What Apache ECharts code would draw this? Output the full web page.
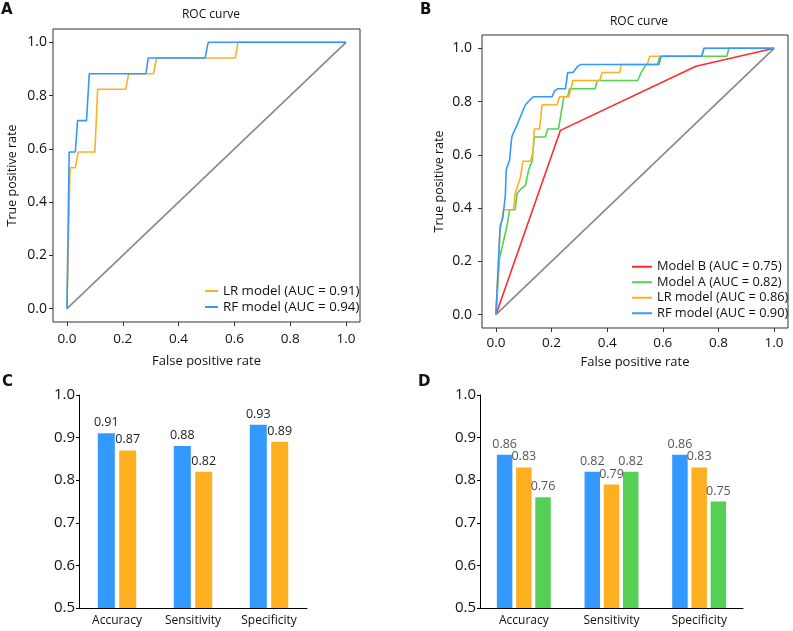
<!DOCTYPE html>
<html>
<head>
<meta charset="utf-8">
<script src="https://cdn.jsdelivr.net/npm/echarts@6/dist/echarts.min.js"></script>
<style>
html,body{margin:0;padding:0;background:#fff;}
#chart{width:793px;height:631px;}
</style>
</head>
<body>
<div id="chart"></div>
<script>
// ---------- Data ----------
var rocTicks = [0, 0.2, 0.4, 0.6, 0.8, 1.0];
var diagonal = [[0, 0], [1, 1]];

// Panel A
var lrA = [[0,0],[0.011,0.529],[0.030,0.529],[0.040,0.588],[0.100,0.588],[0.110,0.824],[0.211,0.824],[0.221,0.882],[0.310,0.882],[0.321,0.941],[0.603,0.941],[0.613,1.0],[1,1]];
var rfA = [[0,0],[0.008,0.588],[0.030,0.588],[0.038,0.706],[0.070,0.706],[0.080,0.882],[0.283,0.882],[0.291,0.941],[0.495,0.941],[0.506,1.0],[1,1]];
var legendA = ['LR model (AUC = 0.91)', 'RF model (AUC = 0.94)'];

// Panel B
var modelB = [[0,0],[0.232,0.692],[0.719,0.933],[1,1]];
var modelA = [[0,0],[0.013,0.212],[0.040,0.333],[0.049,0.394],[0.069,0.394],[0.076,0.455],[0.088,0.470],[0.106,0.485],[0.118,0.545],[0.130,0.576],[0.138,0.667],[0.178,0.667],[0.186,0.697],[0.225,0.697],[0.244,0.818],[0.258,0.818],[0.265,0.848],[0.357,0.848],[0.364,0.879],[0.510,0.879],[0.522,0.909],[0.540,0.939],[0.580,0.939],[0.590,0.970],[0.830,0.970],[0.838,1.0],[1,1]];
var lrB = [[0,0],[0.015,0.313],[0.027,0.394],[0.063,0.394],[0.069,0.455],[0.088,0.515],[0.097,0.576],[0.124,0.576],[0.133,0.606],[0.138,0.697],[0.157,0.697],[0.166,0.788],[0.220,0.788],[0.229,0.818],[0.262,0.818],[0.277,0.879],[0.373,0.879],[0.382,0.909],[0.445,0.909],[0.450,0.939],[0.544,0.939],[0.553,0.970],[0.740,0.970],[0.748,1.0],[1,1]];
var rfB = [[0,0],[0.015,0.333],[0.025,0.364],[0.034,0.450],[0.037,0.545],[0.049,0.580],[0.057,0.667],[0.069,0.697],[0.076,0.712],[0.094,0.758],[0.106,0.788],[0.124,0.808],[0.135,0.818],[0.202,0.818],[0.210,0.839],[0.222,0.848],[0.250,0.848],[0.258,0.909],[0.277,0.909],[0.292,0.930],[0.304,0.939],[0.586,0.939],[0.594,0.970],[0.740,0.970],[0.748,1.0],[1,1]];
var legendB = ['Model B (AUC = 0.75)', 'Model A (AUC = 0.82)', 'LR model (AUC = 0.86)', 'RF model (AUC = 0.90)'];

// Panels C and D
var metrics = ['Accuracy', 'Sensitivity', 'Specificity'];
var cBlue = [0.91, 0.88, 0.93];
var cOrange = [0.87, 0.82, 0.89];
var dBlue = [0.86, 0.82, 0.86];
var dOrange = [0.83, 0.79, 0.83];
var dGreen = [0.76, 0.82, 0.75];
var barTicks = ['0.5', '0.6', '0.7', '0.8', '0.9', '1.0'];

// ---------- Style ----------
var FONT = 'Open Sans';
var BLUE = '#3399FF', ORANGE = '#FFB020', GREEN = '#55D055', RED = '#FF2A2A', GRAY = '#888888';

function rocX(idx, margin, nameGap) {
  return {
    gridIndex: idx, type: 'value', min: -0.05, max: 1.05,
    name: 'False positive rate', nameLocation: 'middle', nameGap: nameGap,
    nameTextStyle: {fontFamily: FONT, fontSize: 13, color: '#111'},
    axisLine: {show: false, onZero: false},
    axisTick: {show: true, inside: false, length: 4, customValues: rocTicks, lineStyle: {color: '#333'}},
    axisLabel: {customValues: rocTicks, margin: margin, fontFamily: FONT, fontSize: 13.5, color: '#111',
      formatter: function (v) { return v.toFixed(1); }},
    splitLine: {show: false}
  };
}
function rocY(idx, margin, nameGap) {
  return {
    gridIndex: idx, type: 'value', min: -0.05, max: 1.05,
    name: 'True positive rate', nameLocation: 'middle', nameGap: nameGap,
    nameTextStyle: {fontFamily: FONT, fontSize: 12.5, color: '#111'},
    axisLine: {show: false, onZero: false},
    axisTick: {show: true, inside: false, length: 4, customValues: rocTicks, lineStyle: {color: '#333'}},
    axisLabel: {customValues: rocTicks, margin: margin, fontFamily: FONT, fontSize: 14, color: '#111',
      formatter: function (v) { return v.toFixed(1); }},
    splitLine: {show: false}
  };
}
function barX(idx) {
  return {
    gridIndex: idx, type: 'category', data: metrics,
    axisLine: {show: true, lineStyle: {color: '#000', width: 1}},
    axisTick: {show: false},
    axisLabel: {margin: 7, fontFamily: FONT, fontSize: 12, color: '#111'},
    splitLine: {show: false}
  };
}
function barY(idx) {
  return {
    gridIndex: idx, type: 'value', min: 0.5, max: 1.0, interval: 0.1,
    axisLine: {show: true, lineStyle: {color: '#000', width: 1}},
    axisTick: {show: true, inside: false, length: 3, lineStyle: {color: '#000'}},
    axisLabel: {margin: 4, fontFamily: FONT, fontSize: 15, color: '#111',
      formatter: function (v) { return barTicks[Math.round((v - 0.5) * 10)]; }},
    splitLine: {show: false}
  };
}
function rocLine(name, data, color, xi) {
  return {
    name: name, type: 'line', xAxisIndex: xi, yAxisIndex: xi, data: data,
    showSymbol: false, symbol: 'none', silent: true, animation: false,
    lineStyle: {color: color, width: 1.6}, itemStyle: {color: color}
  };
}
function bar(name, data, color, xi, width, gap, labelColor) {
  return {
    name: name, type: 'bar', xAxisIndex: xi, yAxisIndex: xi, data: data,
    barWidth: width, barGap: gap, animation: false,
    itemStyle: {color: color},
    label: {show: true, position: 'top', distance: 4, fontFamily: FONT, fontSize: 12.5, color: labelColor,
      formatter: function (p) { return p.value.toFixed(2); }}
  };
}

var option = {
  backgroundColor: '#fff',
  animation: false,
  title: [
    {text: 'ROC curve', left: 206, top: 4, textAlign: 'center',
     textStyle: {fontFamily: FONT, fontSize: 12, fontWeight: 'normal', color: '#111'}},
    {text: 'ROC curve', left: 634, top: 11, textAlign: 'center',
     textStyle: {fontFamily: FONT, fontSize: 12, fontWeight: 'normal', color: '#111'}}
  ],
  graphic: [
    {type: 'text', left: 1, top: 3, style: {text: 'A', font: 'bold 15px "DejaVu Sans"', fill: '#111'}},
    {type: 'text', left: 420, top: 3, style: {text: 'B', font: 'bold 15px "DejaVu Sans"', fill: '#111'}},
    {type: 'text', left: 2, top: 375, style: {text: 'C', font: 'bold 15px "DejaVu Sans"', fill: '#111'}},
    {type: 'text', left: 418, top: 375, style: {text: 'D', font: 'bold 15px "DejaVu Sans"', fill: '#111'}}
  ],
  legend: [
    {data: legendA, orient: 'vertical', left: 200, top: 278, padding: 5, icon: 'rect', itemWidth: 13, itemHeight: 2,
     itemGap: 0, selectedMode: false,
     textStyle: {fontFamily: FONT, fontSize: 13.3, color: '#111', lineHeight: 16}},
    {data: legendB, orient: 'vertical', left: 627, top: 254, padding: 5, icon: 'rect', itemWidth: 20, itemHeight: 2,
     itemGap: 0, selectedMode: false,
     textStyle: {fontFamily: FONT, fontSize: 12.8, color: '#111', lineHeight: 15.5}}
  ],
  grid: [
    {left: 53, top: 29, width: 307, height: 293, show: true, borderColor: '#333', borderWidth: 1, backgroundColor: 'transparent'},
    {left: 482, top: 35, width: 306, height: 293, show: true, borderColor: '#333', borderWidth: 1, backgroundColor: 'transparent'},
    {left: 79, top: 395, width: 228, height: 213},
    {left: 480, top: 395, width: 263, height: 213}
  ],
  xAxis: [rocX(0, 10, 33), rocX(1, 8, 28), barX(2), barX(3)],
  yAxis: [rocY(0, 6, 34), rocY(1, 10, 36), barY(2), barY(3)],
  series: [
    rocLine('diagA', diagonal, GRAY, 0),
    rocLine(legendA[0], lrA, ORANGE, 0),
    rocLine(legendA[1], rfA, BLUE, 0),
    rocLine('diagB', diagonal, GRAY, 1),
    rocLine(legendB[0], modelB, RED, 1),
    rocLine(legendB[1], modelA, GREEN, 1),
    rocLine(legendB[2], lrB, ORANGE, 1),
    rocLine(legendB[3], rfB, BLUE, 1),
    bar('cBlue', cBlue, BLUE, 2, 17, '26%', '#222'),
    bar('cOrange', cOrange, ORANGE, 2, 17, '26%', '#222'),
    bar('dBlue', dBlue, BLUE, 3, 15.5, '24%', '#555'),
    bar('dOrange', dOrange, ORANGE, 3, 15.5, '24%', '#555'),
    bar('dGreen', dGreen, GREEN, 3, 15.5, '24%', '#555')
  ]
};

var chart = echarts.init(document.getElementById('chart'), null, {renderer: 'canvas'});
chart.setOption(option);
</script>
</body>
</html>
